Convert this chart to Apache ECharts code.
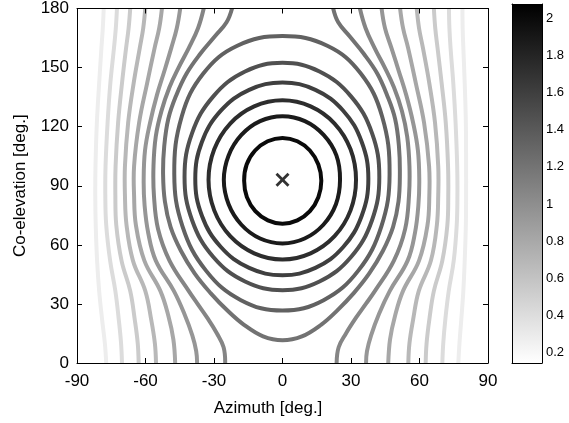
<!DOCTYPE html>
<html>
<head>
<meta charset="utf-8">
<script src="https://cdn.jsdelivr.net/npm/echarts@6/dist/echarts.min.js"></script>
<style>
  html, body { margin: 0; padding: 0; background: #fff; }
  #chart { width: 569px; height: 423px; }
</style>
</head>
<body>
<div id="chart"></div>
<script>
// contour levels, innermost (darkest) first
const levels = [2.0, 1.87, 1.74, 1.6, 1.47, 1.34, 1.21, 1.07, 0.94, 0.81, 0.68, 0.54, 0.41, 0.28]
const cbMin = 0.143
const cbMax = 2.078

// peak marker
const peakAz = [0]
const peakEl = [93]

// closed contours [azimuth, co-elevation], one lap each
const c1 = [[17.0,92.5],[15.7,100.8],[12.0,107.9],[6.5,112.6],[0,114.3],[-6.5,112.6],[-12.0,107.9],[-15.7,100.8],[-16.8,92.5],[-15.6,84.2],[-11.9,77.1],[-6.4,72.4],[0,70.7],[6.5,72.4],[12.0,77.1],[15.7,84.2]]
const c2 = [[25.2,93],[23.6,105.4],[18.0,115.8],[9.8,122.8],[0,125.3],[-9.8,122.8],[-18.0,115.8],[-23.6,105.4],[-25.7,93],[-23.6,80.6],[-18.0,70.2],[-9.8,63.2],[0,60.7],[9.7,63.2],[17.9,70.2],[23.4,80.6]]
const c3 = [[32.2,93],[29.8,108.5],[22.8,121.6],[12.3,130.3],[0,133.4],[-12.4,130.3],[-22.9,121.6],[-29.9,108.5],[-32.4,93],[-29.9,77.5],[-22.9,64.4],[-12.4,55.7],[0,52.6],[12.3,55.7],[22.8,64.4],[29.8,77.5]]
const c4 = [[37.6,93.5],[34.7,112.2],[26.6,128.1],[14.4,138.7],[0,142.4],[-14.6,138.7],[-27.0,128.1],[-35.3,112.2],[-38.2,93.5],[-35.3,74.8],[-27.0,58.9],[-14.6,48.3],[0,44.6],[14.4,48.3],[26.6,58.9],[34.7,74.8]]
const c5 = [[42.4,94.5],[39.2,116.7],[30.0,135.4],[16.2,148.0],[0,152.4],[-16.4,148.0],[-30.3,135.4],[-39.6,116.7],[-42.9,94.5],[-39.6,72.5],[-30.3,53.8],[-16.4,41.4],[0,37],[16.2,41.4],[30.0,53.8],[39.2,72.5]]
const c6 = [[46.9,96],[43.6,125.3],[34.2,147.1],[19.6,161.1],[0,166],[-19.8,161.1],[-34.6,147.1],[-44.1,125.3],[-47.4,96],[-43.8,69.4],[-33.5,46.9],[-18.2,31.9],[0,26.6],[18.0,31.9],[33.2,46.9],[43.3,69.4]]

// contour entering at the top, passing below the peak, leaving at the top
const c7 = [[-22.1,180],[-24.5,173],[-29.5,166],[-36,157],[-42,147],[-46.5,136],[-50,124],[-51.8,110],[-52.3,96],[-51.5,82],[-49,69],[-44.5,57],[-38.5,45.5],[-31.5,35.5],[-24,26.5],[-17,19.5],[-8.5,13.5],[0,11.5],[8.5,13.5],[17,19.5],[23.8,26.5],[31.2,35.5],[38,45.5],[44,57],[48.4,69],[50.8,82],[51.4,96],[51,110],[49.3,124],[45.8,136],[41.5,147],[35.6,157],[29.3,166],[24.4,173],[22.2,180]]

// open contours, top edge to bottom edge
const c8L = [[-34.5,180],[-37,170],[-41,160],[-45.5,150],[-49.5,140],[-53,128],[-55.5,115],[-56.5,100],[-56.3,85],[-54.5,68],[-49.5,52],[-41.1,36.6],[-37.2,30],[-33,23],[-28.7,15],[-25.8,8],[-25.1,0]]
const c8R = [[33.9,180],[36.4,170],[40.3,160],[44.8,150],[48.8,140],[52.3,128],[54.6,115],[55.6,100],[55.4,85],[53.7,68],[48.8,52],[40.5,36.6],[36.5,30],[32.2,23],[27.8,15],[24.6,8],[23.7,0]]
const c9L = [[-44.8,180],[-46.3,170],[-48.7,160],[-51.8,148],[-55,136],[-58,122],[-60.2,108],[-60.8,93],[-60.4,80],[-58.8,66],[-55.5,52],[-47.6,36.6],[-43,25],[-39.5,14],[-37.8,6],[-37.4,0]]
const c9R = [[43.4,180],[44.9,170],[47.7,160],[51,148],[54.2,136],[57.2,122],[59.3,108],[59.9,93],[59.5,80],[58,66],[54.8,52],[47,36.6],[42.3,25],[38.8,14],[37,6],[36.6,0]]
const c10L = [[-52.8,180],[-54,170],[-56,160],[-59.3,142],[-62.8,122],[-65,100],[-65,85],[-64.2,70],[-60.5,52],[-53.5,36.6],[-50,24],[-47.8,12],[-47,0]]
const c10R = [[51.5,180],[52.8,170],[55,160],[58.4,142],[62,122],[64.2,100],[64.3,85],[63.5,70],[59.8,52],[52.8,36.6],[49.3,24],[47.1,12],[46.3,0]]
const c11L = [[-60.1,180],[-61,170],[-62.5,160],[-65.2,142],[-67.6,122],[-69,100],[-69,85],[-68.3,70],[-65.5,52],[-60.1,36.6],[-57.5,22],[-55.9,10],[-55.4,0]]
const c11R = [[58.8,180],[59.8,170],[61.5,160],[64.3,142],[66.8,122],[68.2,100],[68.2,85],[67.6,70],[65,52],[59.7,36.6],[57.2,22],[55.6,10],[55.1,0]]
const c12L = [[-66.7,180],[-67.4,170],[-68.5,160],[-70.3,142],[-72,122],[-73.1,100],[-73.2,85],[-72.8,70],[-70.5,52],[-66.7,36.6],[-64.7,22],[-63.4,10],[-63,0]]
const c12R = [[66.3,180],[66.9,170],[67.9,160],[69.7,142],[71.5,122],[72.5,100],[72.6,85],[72.2,70],[70,52],[66.3,36.6],[64.3,22],[63.1,10],[62.7,0]]
const c13L = [[-72.5,180],[-73,170],[-73.8,160],[-75.4,142],[-76.6,122],[-77.5,100],[-77.6,85],[-77.2,70],[-75.5,52],[-73.2,36.6],[-71.7,22],[-70.7,10],[-70.3,0]]
const c13R = [[72.9,180],[73.1,170],[73.6,160],[74.8,142],[75.8,122],[76.5,100],[76.6,85],[76.3,70],[75,52],[72.8,36.6],[71.3,22],[70.4,10],[70,0]]
const c14L = [[-78.3,180],[-78.7,170],[-79.3,160],[-80.3,142],[-81.3,122],[-81.9,100],[-82,85],[-81.8,70],[-81.2,52],[-80.3,36.6],[-79,22],[-77.8,10],[-77.2,0]]
const c14R = [[78.8,180],[78.9,170],[79.2,160],[79.8,142],[80.3,122],[80.4,100],[80.4,85],[80.3,70],[79.8,52],[79.2,36.6],[78.3,22],[77.5,10],[77,0]]

const FONT = 'Liberation Sans, Arial, Helvetica, sans-serif'

// [level index, points, closed]
const contourLines = [
  [0, c1, true], [1, c2, true], [2, c3, true], [3, c4, true],
  [4, c5, true], [5, c6, true], [6, c7, false],
  [7, c8L, false], [7, c8R, false], [8, c9L, false], [8, c9R, false],
  [9, c10L, false], [9, c10R, false], [10, c11L, false], [10, c11R, false],
  [11, c12L, false], [11, c12R, false], [12, c13L, false], [12, c13R, false],
  [13, c14L, false], [13, c14R, false]
]

// reversed gray colormap, white at cbMin, black at cbMax
function grayOf(v) {
  const t = 1 - (v - cbMin) / (cbMax - cbMin)
  const g = Math.max(0, Math.min(255, Math.round(255 * t)))
  return 'rgb(' + g + ',' + g + ',' + g + ')'
}

const chart = echarts.init(document.getElementById('chart'), null, { renderer: 'canvas' })

// each contour is one smooth path; points go through the grid's scales via api.coord
const contourSeries = contourLines.map(([li, pts, closed]) => ({
  type: 'custom',
  coordinateSystem: 'cartesian2d',
  xAxisIndex: 0,
  yAxisIndex: 0,
  data: pts,
  silent: true,
  clip: true,
  z: 2,
  renderItem: (params, api) => {
    if (params.dataIndex !== 0) return null
    const px = pts.map(p => api.coord(p))
    return {
      type: closed ? 'polygon' : 'polyline',
      shape: { points: px, smooth: 0.4 },
      style: { fill: 'none', stroke: grayOf(levels[li]), lineWidth: 4, lineCap: 'butt', lineJoin: 'round' }
    }
  }
}))

const mainTick = { inside: true, length: 5, lineStyle: { color: '#000', width: 1 } }
const axisLine = { show: true, onZero: false, lineStyle: { color: '#000', width: 1 } }
const labelStyle = { color: '#000', fontFamily: FONT, fontSize: 17 }

chart.setOption({
  animation: false,
  backgroundColor: '#fff',
  grid: [
    { left: 77, top: 4, width: 411, height: 359, show: false },
    { left: 512, top: 4, width: 30, height: 359, show: false }
  ],
  xAxis: [
    {
      gridIndex: 0, type: 'value', min: -90, max: 90, interval: 30, position: 'bottom',
      axisLine: axisLine, axisTick: mainTick, splitLine: { show: false },
      axisLabel: Object.assign({ margin: 10 }, labelStyle),
      name: 'Azimuth [deg.]', nameLocation: 'middle', nameGap: 37,
      nameTextStyle: Object.assign({ padding: [0, 29, 0, 0] }, labelStyle), z: 5
    },
    {
      gridIndex: 0, type: 'value', min: -90, max: 90, interval: 30, position: 'top',
      axisLine: axisLine, axisTick: mainTick, splitLine: { show: false },
      axisLabel: { show: false }, z: 5
    },
    {
      gridIndex: 1, type: 'category', data: ['cb'], position: 'bottom',
      axisLine: axisLine, axisTick: { show: false }, axisLabel: { show: false }, z: 5
    },
    {
      gridIndex: 1, type: 'category', data: ['cb'], position: 'top',
      axisLine: axisLine, axisTick: { show: false }, axisLabel: { show: false }, z: 5
    }
  ],
  yAxis: [
    {
      gridIndex: 0, type: 'value', min: 0, max: 180, interval: 30, position: 'left',
      axisLine: axisLine, axisTick: mainTick, splitLine: { show: false },
      axisLabel: Object.assign({ margin: 8 }, labelStyle),
      name: 'Co-elevation [deg.]', nameLocation: 'middle', nameGap: 48,
      nameTextStyle: labelStyle, z: 5
    },
    {
      gridIndex: 0, type: 'value', min: 0, max: 180, interval: 30, position: 'right',
      axisLine: axisLine, axisTick: mainTick, splitLine: { show: false },
      axisLabel: { show: false }, z: 5
    },
    {
      gridIndex: 1, type: 'value', min: cbMin, max: cbMax, splitNumber: 10, position: 'right',
      axisLine: axisLine, axisTick: { inside: true, length: 4, lineStyle: { color: '#000' } },
      splitLine: { show: false },
      axisLabel: { color: '#000', fontFamily: FONT, fontSize: 13, margin: 4, showMinLabel: false, showMaxLabel: false },
      z: 5
    },
    {
      gridIndex: 1, type: 'value', min: cbMin, max: cbMax, splitNumber: 10, position: 'left',
      axisLine: axisLine, axisTick: { inside: true, length: 4, lineStyle: { color: '#000' } },
      splitLine: { show: false }, axisLabel: { show: false }, z: 5
    }
  ],
  series: contourSeries.concat([
    {
      type: 'scatter',
      xAxisIndex: 0, yAxisIndex: 0,
      data: peakAz.map((a, i) => [a, peakEl[i]]),
      symbol: 'path://M0,2L2,0L7,5L12,0L14,2L9,7L14,12L12,14L7,9L2,14L0,12L5,7Z',
      symbolSize: 14,
      itemStyle: { color: '#000' },
      silent: true,
      z: 4
    },
    {
      type: 'bar', xAxisIndex: 2, yAxisIndex: 2, stack: 'cb', barWidth: '100%',
      data: [cbMin], itemStyle: { color: 'rgba(0,0,0,0)' }, silent: true
    },
    {
      type: 'bar', xAxisIndex: 2, yAxisIndex: 2, stack: 'cb', barWidth: '100%',
      data: [cbMax - cbMin], silent: true,
      itemStyle: {
        color: new echarts.graphic.LinearGradient(0, 0, 0, 1, [
          { offset: 0, color: grayOf(cbMax) },
          { offset: 1, color: grayOf(cbMin) }
        ])
      }
    }
  ])
})
</script>
</body>
</html>
